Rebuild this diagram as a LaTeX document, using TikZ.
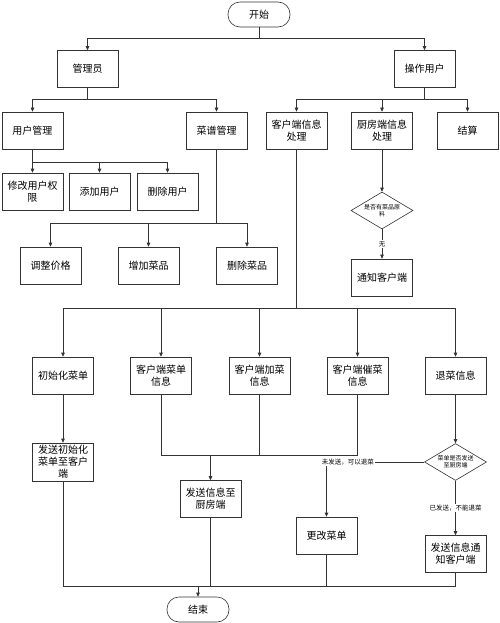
\documentclass[tikz,border=0pt]{standalone}
\usepackage{fontspec}
\usepackage{tikz}
\newfontfamily\cjk{Noto Sans CJK SC}
\usetikzlibrary{arrows.meta}
\usetikzlibrary{shapes.geometric}
\tikzset{box/.style = {draw, rectangle, minimum width = 61, minimum height = 37, inner sep = 1, align = center, font = \cjk\fontsize{10}{12}\selectfont}}
\tikzset{term/.style = {draw, rectangle, rounded corners = 12, minimum width = 62, minimum height = 25, font = \cjk\fontsize{10}{12}\selectfont}}
\tikzset{ask/.style = {draw, diamond, aspect = 1.67, minimum width = 62, minimum height = 37, inner sep = 0, align = center, font = \cjk\fontsize{6}{7}\selectfont}}
\tikzset{lbl/.style = {fill = white, inner sep = 1, font = \cjk\fontsize{6.5}{7}\selectfont}}
\tikzset{arr/.style = {-{Triangle[length = 4, width = 3.5]}}}
\begin{document}
\begin{tikzpicture}[x = 1pt, y = -1pt, line width = 0.6pt, draw = black!80]
            \useasboundingbox (0,0) rectangle (500,623);
            \node [term] (start) at (259,14.5) {开始};
            \node [box] (gly) at (87.5,69) {管理员};
            \node [box] (czyh) at (424.5,69) {操作用户};
            \node [box] (yhgl) at (32.5,130.5) {用户管理};
            \node [box] (cpgl) at (216.5,130.5) {菜谱管理};
            \node [box] (khd) at (296.5,130.5) {客户端信息\\处理};
            \node [box] (cfd) at (382,130.5) {厨房端信息\\处理};
            \node [box] (js) at (467.5,130.5) {结算};
            \node [box] (xgqx) at (32.5,191.5) {修改用户权\\限};
            \node [box] (tjyh) at (99.5,191.5) {添加用户};
            \node [box] (scyh) at (167.5,191.5) {删除用户};
            \node [box] (tzjg) at (50.5,265.5) {调整价格};
            \node [box] (zjcp) at (148.5,265.5) {增加菜品};
            \node [box] (sccp) at (247,265.5) {删除菜品};
            \node [ask] (ycl) at (382,210.5) {是否有菜品原\\料};
            \node [box] (tzkhd) at (382,277.5) {通知客户端};
            \node [box] (csh) at (63,375.5) {初始化菜单};
            \node [box] (cdxx) at (161,375.5) {客户端菜单\\信息};
            \node [box] (jcxx) at (259.5,375.5) {客户端加菜\\信息};
            \node [box] (ccxx) at (357.5,375.5) {客户端催菜\\信息};
            \node [box] (tcxx) at (455.5,375.5) {退菜信息};
            \node [box, minimum height = 38] (fscsh) at (63,462) {发送初始化\\菜单至客户\\端};
            \node [box] (fscf) at (210.5,499) {发送信息至\\厨房端};
            \node [ask] (sffs) at (455.5,462) {菜单是否发送\\至厨房端};
            \node [box] (ggcd) at (326.5,535.5) {更改菜单};
            \node [box] (fstz) at (455.5,554) {发送信息通\\知客户端};
            \node [term] (end) at (198,609.5) {结束};
            \coordinate (hb) at (210.5,455);
            \coordinate (he) at (198,586);
            \draw [arr] (start.south) -- ++(0,11) -| (gly.north);
            \draw [arr] (start.south) -- ++(0,11) -| (czyh.north);
            \draw [arr] (gly.south) -- ++(0,12) -| (yhgl.north);
            \draw [arr] (gly.south) -- ++(0,12) -| (cpgl.north);
            \draw [arr] (czyh.south) -- ++(0,12) -| (khd.north);
            \draw [arr] (czyh.south) -- ++(0,12) -| (cfd.north);
            \draw [arr] (czyh.south) -- ++(0,12) -| (js.north);
            \draw [arr] (yhgl.south) -- ++(0,13) -| (xgqx.north);
            \draw [arr] (yhgl.south) -- ++(0,13) -| (tjyh.north);
            \draw [arr] (yhgl.south) -- ++(0,13) -| (scyh.north);
            \draw [arr] (cpgl.south) -- ++(0,74) -| (tzjg.north);
            \draw [arr] (cpgl.south) -- ++(0,74) -| (zjcp.north);
            \draw [arr] (cpgl.south) -- ++(0,74) -| (sccp.north);
            \draw [arr] (cfd) -- (ycl);
            \draw [arr] (ycl) -- node [lbl] {无} (tzkhd);
            \draw [arr] (khd.south) -- ++(0,159) -| (csh.north);
            \draw [arr] (khd.south) -- ++(0,159) -| (cdxx.north);
            \draw [arr] (khd.south) -- ++(0,159) -| (jcxx.north);
            \draw [arr] (khd.south) -- ++(0,159) -| (ccxx.north);
            \draw [arr] (khd.south) -- ++(0,159) -| (tcxx.north);
            \draw [arr] (csh) -- (fscsh);
            \draw [] (cdxx.south) |- (hb);
            \draw [] (jcxx.south) |- (hb);
            \draw [] (ccxx.south) |- (hb);
            \draw [arr] (hb) -- (fscf);
            \draw [arr] (tcxx) -- (sffs);
            \draw [arr] (sffs.west) -| node [lbl, pos = 0.39] {未发送，可以退菜} (ggcd.north);
            \draw [arr] (sffs) -- node [lbl] {已发送，不能退菜} (fstz);
            \draw [] (fscsh.south) |- (he);
            \draw [] (fscf.south) |- (he);
            \draw [] (ggcd.south) |- (he);
            \draw [] (fstz.south) |- (he);
            \draw [arr] (he) -- (end);
        \end{tikzpicture}
\end{document}
